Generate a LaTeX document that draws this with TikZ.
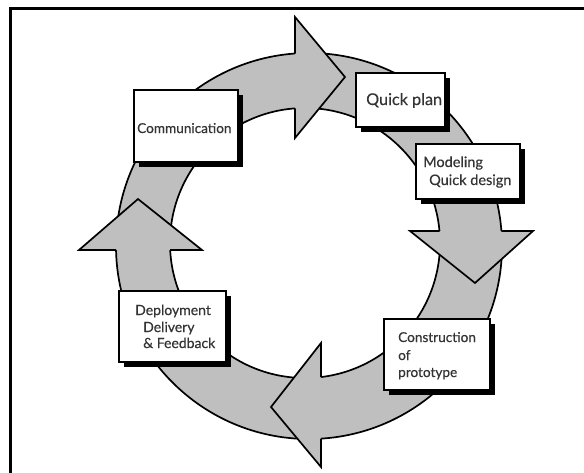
\documentclass[tikz,border=0pt]{standalone}
\usepackage{fontspec}
\setmainfont{Lato}[FakeBold=0.35]
\usetikzlibrary{shadows}
\definecolor{ringgray}{RGB}{191,191,191}
\definecolor{labelgray}{RGB}{52,52,52}
\begin{document}
\begin{tikzpicture}[x=1pt,y=-1pt,
  outline/.style={draw=black, line width=1.7pt, line join=miter, line cap=butt},
  stagebox/.style={draw=black, fill=white, line width=2.2pt, inner sep=0pt,
    drop shadow={shadow xshift=4.5pt, shadow yshift=-4.5pt, opacity=1, fill=black}},
  stagetext/.style={font=\fontsize{#1}{16}\selectfont, text=labelgray,
    inner sep=0pt, anchor=base west},
  stagetext/.default=14.5]
\useasboundingbox (0,0) rectangle (584,472);

% frame (top and left rules)
\draw[line width=3pt] (10,473) -- (10,8) -- (585,8);

% ring: slightly eccentric annulus
\coordinate (oc) at (309,246);
\coordinate (ic) at (305,243);
\fill[ringgray, even odd rule] (oc) circle[radius=193] (ic) circle[radius=135];
\draw[outline] (oc) circle[radius=193];
\draw[outline] (ic) circle[radius=135];

% arrow heads (clockwise): right, down, left, up
\fill[ringgray] (295,17) -- (345,77) -- (295,138) -- cycle;
\draw[outline] (295,53.5) -- (295,17) -- (345,77) -- (295,138) -- (295,108.4);

\fill[ringgray] (410,231) -- (475,283) -- (533,231) -- cycle;
\draw[outline] (439.5,231) -- (410,231) -- (475,283) -- (533,231) -- (501.4,231);

\fill[ringgray] (321,343) -- (271,407) -- (321,467) -- cycle;
\draw[outline] (321,377) -- (321,343) -- (271,407) -- (321,467) -- (321,438.6);

\fill[ringgray] (79,250) -- (138,199) -- (202,250) -- cycle;
\draw[outline] (116,250) -- (79,250) -- (138,199) -- (202,250) -- (170,250);

% stage boxes
\node[stagebox, minimum width=104pt, minimum height=72pt] (comm) at (186,126) {};
\node[stagebox, minimum width=89pt, minimum height=54pt] (plan) at (400.5,100) {};
\node[stagebox, minimum width=104pt, minimum height=55pt] (model) at (468,171.5) {};
\node[stagebox, minimum width=106pt, minimum height=71pt] (build) at (437,354.5) {};
\node[stagebox, minimum width=107pt, minimum height=71pt] (deploy) at (172.5,326.5) {};

% stage labels
\node[stagetext=13.6] (commA) at (137,133) {Communication};
\node[stagetext=16.2] (planA) at (366,105) {Quick plan};
\node[stagetext=14.5] (modelA) at (423,167) {Modeling};
\node[stagetext=14.5] (modelB) at (429,185) {Quick design};
\node[stagetext=13.6] (buildA) at (398,342) {Construction};
\node[stagetext=13.6] (buildB) at (398,360) {of};
\node[stagetext=13.6] (buildC) at (398,377) {prototype};
\node[stagetext=14] (deployA) at (135,315) {Deployment};
\node[stagetext=14] (deployB) at (143,332) {Delivery};
\node[stagetext=14] (deployC) at (143,348) {\& Feedback};
\end{tikzpicture}
\end{document}
